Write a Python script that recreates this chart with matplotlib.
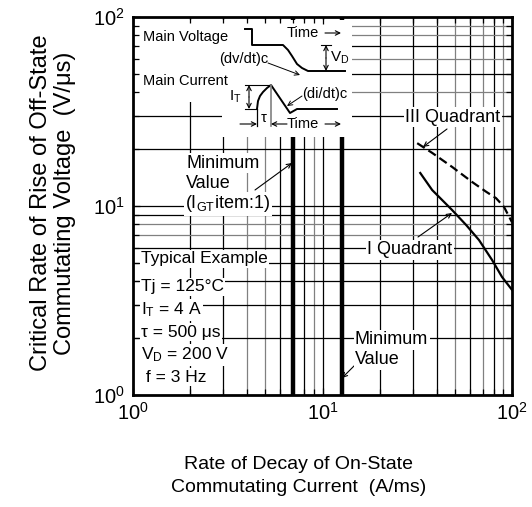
import matplotlib
matplotlib.use('Agg')
import matplotlib.pyplot as plt
from matplotlib.patches import Rectangle

plt.rcParams['font.family'] = ['Liberation Sans', 'DejaVu Sans']
plt.rcParams['mathtext.fontset'] = 'custom'
plt.rcParams['mathtext.rm'] = 'Liberation Sans'
plt.rcParams['mathtext.it'] = 'Liberation Sans:italic'
plt.rcParams['mathtext.bf'] = 'Liberation Sans:bold'

# Кривые (di/dt)c -> (dv/dt)c
x_q1 = [32.8, 37.9, 48.3, 57.3, 67, 78.5, 88.6, 100]
y_q1 = [14.95, 12.15, 9.52, 7.93, 6.6, 5.18, 4.21, 3.6]
x_q3 = [31.6, 37.9, 48.3, 61.6, 73, 82.4, 90.7, 100]
y_q3 = [21.5, 19.1, 16.1, 13.4, 11.9, 11.0, 9.9, 8.2]
# Минимальные значения (di/dt)c
x_min = [7, 12.6]

# Сетка: чёрные и серые линии
grid_x_black = [2, 3, 6, 8, 10, 20, 30, 40, 60, 80]
grid_x_gray = [4, 5, 9, 50, 70, 90]
grid_y_black = [2, 3, 4, 5, 6, 9, 10, 20, 30, 50, 70]
grid_y_gray = [7, 8, 40, 60, 80, 90]

typical = ['Typical Example', 'Tj = 125°C', r'$\mathregular{I_T}$ = 4 A',
           'τ = 500 μs', r'$\mathregular{V_D}$ = 200 V', ' f = 3 Hz']

fig = plt.figure(figsize=(5.32, 5.07), dpi=100)
ax = fig.add_axes([133 / 532, 1 - 395 / 507, 379 / 532, 378 / 507])
ax.set_xscale('log')
ax.set_yscale('log')
ax.set_xlim(1, 100)
ax.set_ylim(1, 100)
ax.set_axisbelow(False)


def P(x, y):
    # пиксели картинки -> доли осей
    return ((x - 133) / 379, (395 - y) / 378)


for v in grid_x_black:
    ax.axvline(v, color='black', lw=0.9, zorder=1)
for v in grid_x_gray:
    ax.axvline(v, color='#808080', lw=0.9, zorder=1)
for v in grid_y_black:
    ax.axhline(v, color='black', lw=0.9, zorder=1)
for v in grid_y_gray:
    ax.axhline(v, color='#808080', lw=0.9, zorder=1)

for v in x_min:
    ax.axvline(v, color='black', lw=3.2, zorder=1.5)

# белая подложка под схемой
for (x0, y0, x1, y1) in [(136, 20, 352, 102), (222, 102, 352, 137)]:
    a0 = P(x0, y1)
    a1 = P(x1, y0)
    ax.add_patch(Rectangle(a0, a1[0] - a0[0], a1[1] - a0[1], transform=ax.transAxes,
                           facecolor='white', edgecolor='none', zorder=2))

ax.plot(x_q1, y_q1, color='black', lw=1.6, zorder=3)
ax.plot(x_q3, y_q3, color='black', lw=1.6, dashes=(4, 2), zorder=3)

for s in ax.spines.values():
    s.set_linewidth(2)
ax.tick_params(which='both', direction='in', top=True, right=True, width=0.9,
               labelsize=14.5, pad=6)
ax.tick_params(which='major', length=5)
ax.tick_params(which='minor', length=4)
ax.set_xticks([1, 10, 100])
ax.set_xticklabels([r'$\mathregular{10^0}$', r'$\mathregular{10^1}$', r'$\mathregular{10^2}$'])
ax.set_yticks([1, 10, 100])
ax.set_yticklabels([r'$\mathregular{10^0}$', r'$\mathregular{10^1}$', r'$\mathregular{10^2}$'])
ax.tick_params(axis='x', pad=5)


def line(pts, **kw):
    xs = [P(x, y)[0] for x, y in pts]
    ys = [P(x, y)[1] for x, y in pts]
    ax.plot(xs, ys, transform=ax.transAxes, clip_on=False, zorder=4,
            color=kw.pop('color', 'black'), lw=kw.pop('lw', 1.4), **kw)


def arrow(p_from, p_to, style='->', lw=0.8):
    ax.annotate('', xy=P(*p_to), xytext=P(*p_from), xycoords='axes fraction',
                arrowprops=dict(arrowstyle=style, lw=lw, color='black',
                                shrinkA=0, shrinkB=0, mutation_scale=8), zorder=5)


def label(x, y, s, size=13, ha='left', box=True):
    kw = {}
    if box:
        kw['bbox'] = dict(facecolor='white', edgecolor='none', pad=1)
    ax.text(*P(x, y), s, transform=ax.transAxes, fontsize=size, ha=ha,
            va='center', zorder=6, **kw)


# схема: напряжение
line([(245, 29), (252, 29), (252, 45), (283, 45), (288, 50), (292, 56), (297, 64),
      (302, 68), (308, 71), (345, 71)])
line([(321, 45), (331, 45)], lw=0.8)
arrow((326, 58), (326, 45))
arrow((326, 58), (326, 71))
arrow((268, 63), (300, 75), lw=0.7)
# схема: ток
line([(257, 109), (258, 101), (260, 96), (263, 92), (267, 88), (271, 85), (290, 113),
      (297, 109), (337, 109)])
line([(245, 85), (271, 85)], lw=0.8)
line([(245, 109), (257, 109)], lw=0.8)
line([(271, 85), (271, 126)], lw=1.2, color='#808080')
line([(257, 109), (257, 126)], lw=0.9)
arrow((249, 97), (249, 85))
arrow((249, 97), (249, 109))
arrow((240, 124), (257, 124))
arrow((287, 124), (271, 124))
arrow((325, 33), (341, 33))
arrow((325, 124), (341, 124))
arrow((302, 96), (287, 106), lw=0.7)

label(143, 37, 'Main Voltage', size=10.5, box=False)
label(143, 81, 'Main Current', size=10.5, box=False)
label(287, 33, 'Time', size=10.5, box=False)
label(287, 124, 'Time', size=10.5, box=False)
label(219, 59, '(dv/dt)c', size=10.5, box=False)
label(302, 94, '(di/dt)c', size=10.5, box=False)
label(330, 58, r'$\mathregular{V_D}$', size=11, box=False)
label(229, 97, r'$\mathregular{I_T}$', size=11, box=False)
label(261, 118, 'τ', size=10.5, box=False)

# подписи
label(186, 163, 'Minimum')
label(186, 183, 'Value')
label(185, 204, r'($\mathregular{I_{GT}}$item:1)')
arrow((255, 190), (292, 163))
label(405, 117, 'III Quadrant')
arrow((447, 129), (423, 147))
label(367, 250, 'I Quadrant')
arrow((418, 237), (452, 213))
label(355, 340, 'Minimum')
label(355, 360, 'Value')
arrow((355, 365), (342, 378))

for i, s in enumerate(typical):
    label(141, [259, 287, 310, 332, 355, 377][i], s, size=12.5)

fig.text(53 / 532, 1 - 203 / 507,
         'Critical Rate of Rise of Off-State\nCommutating Voltage  (V/μs)',
         rotation=90, ha='center', va='center', multialignment='center',
         fontsize=17, linespacing=1.12)
fig.text(299 / 532, 1 - 476 / 507,
         'Rate of Decay of On-State\nCommutating Current  (A/ms)',
         ha='center', va='center', multialignment='center', fontsize=14,
         linespacing=1.45)

fig.savefig('out.png', dpi=100)
